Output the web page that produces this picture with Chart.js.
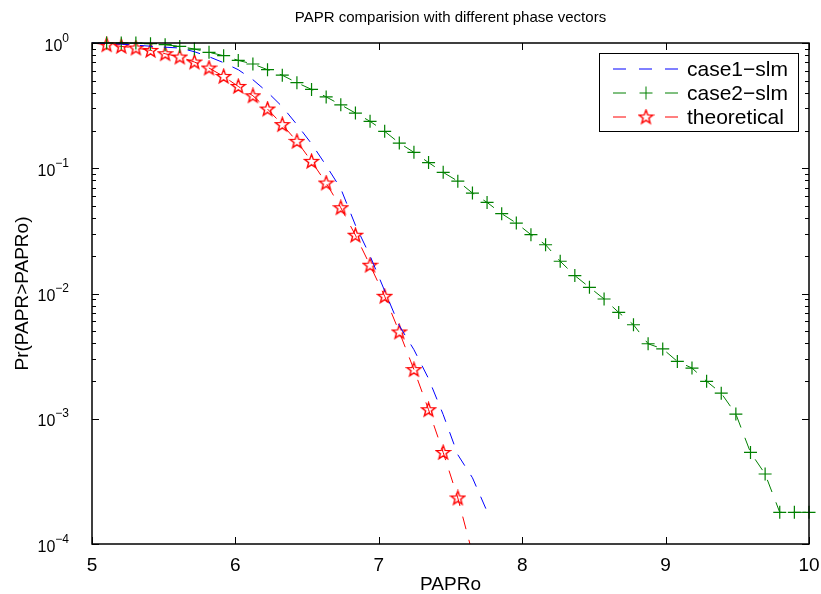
<!DOCTYPE html>
<html>
<head>
<meta charset="utf-8">
<script src="https://cdn.jsdelivr.net/npm/chart.js@4.4.1/dist/chart.umd.min.js"></script>
<style>
  html, body { margin: 0; padding: 0; background: #fff; }
  #wrap { width: 821px; height: 594px; }
</style>
</head>
<body>
<div id="wrap"><canvas id="chart" width="821" height="594"></canvas></div>
<script>
// ---- data ----
const papro = [
  5.000, 5.102, 5.204, 5.306, 5.408, 5.510, 5.612, 5.714, 5.816, 5.918,
  6.020, 6.122, 6.224, 6.327, 6.429, 6.531, 6.633, 6.735, 6.837, 6.939,
  7.041, 7.143, 7.245, 7.347, 7.449, 7.551, 7.653, 7.755, 7.857, 7.959,
  8.061, 8.163, 8.265, 8.367, 8.469, 8.571, 8.673, 8.776, 8.878, 8.980,
  9.082, 9.184, 9.286, 9.388, 9.490, 9.592, 9.694, 9.796, 9.898, 10.000
];

const case1Slm = [
  1.0, 0.99, 0.98, 0.96, 0.943, 0.926, 0.912, 0.852, 0.777, 0.696,
  0.612, 0.509, 0.405, 0.310, 0.223, 0.157, 0.105, 0.0687, 0.0351, 0.020,
  0.0105, 0.00553, 0.00356, 0.00209, 0.00108, 0.000516, 0.000338, 0.000182
];

const case2Slm = [
  1.0, 1.0, 1.0, 0.999, 0.987, 0.969, 0.939, 0.895, 0.842, 0.792,
  0.726, 0.680, 0.612, 0.553, 0.482, 0.426, 0.371, 0.321, 0.276, 0.237,
  0.197, 0.159, 0.134, 0.111, 0.0927, 0.0789, 0.0634, 0.0534, 0.0434, 0.0365,
  0.0295, 0.0245, 0.0181, 0.0139, 0.0112, 0.00904, 0.00706, 0.00563, 0.00397, 0.00361,
  0.00287, 0.00254, 0.00199, 0.0016, 0.00109, 0.000538, 0.000362, 0.000179, 0.000179, 0.000179
];

const theoretical = [
  1.0, 0.969, 0.94, 0.912, 0.873, 0.821, 0.773, 0.705, 0.631, 0.541,
  0.450, 0.379, 0.297, 0.223, 0.164, 0.1135, 0.0762, 0.0484, 0.0292, 0.01682,
  0.0095, 0.00493, 0.00247, 0.00118, 0.000538, 0.000233, 0.000084
];

const xTicks = [5, 6, 7, 8, 9, 10];
const yTickExponents = [0, -1, -2, -3, -4];
const seriesLabels = ['case1\u2212slm', 'case2\u2212slm', 'theoretical'];
const chartTitle = 'PAPR comparision with different phase vectors';
const xTitle = 'PAPRo';
const yTitle = 'Pr(PAPR>PAPRo)';

const FONT = '"Liberation Sans", Arial, Helvetica, sans-serif';
const BLUE = '#0000ff', GREEN = '#008000', RED = '#ff0000';

function toPoints(values) {
  return values.map((v, i) => ({ x: papro[i], y: v }));
}

// pentagram marker, like matlab 'p'
function makeStar(color) {
  const c = document.createElement('canvas');
  c.width = 17; c.height = 17;
  const g = c.getContext('2d');
  const cx = 8.5, cy = 8.8, R = 7.2, r = 3.0;
  g.beginPath();
  for (let k = 0; k < 10; k++) {
    const rad = k % 2 === 0 ? R : r;
    const a = -Math.PI / 2 + k * Math.PI / 5;
    const px = cx + rad * Math.cos(a), py = cy + rad * Math.sin(a);
    if (k === 0) g.moveTo(px, py); else g.lineTo(px, py);
  }
  g.closePath();
  g.strokeStyle = color;
  g.lineWidth = 1.4;
  g.stroke();
  return c;
}
const starImg = makeStar(RED);

// box, inward ticks, y labels with exponents, title and legend
const matlabAxes = {
  id: 'matlabAxes',
  afterDatasetsDraw(chart) {
    const ctx = chart.ctx;
    const { left, right, top, bottom } = chart.chartArea;
    const xs = chart.scales.x, ys = chart.scales.y;
    ctx.save();
    ctx.strokeStyle = '#000';
    ctx.lineWidth = 1.5;
    ctx.strokeRect(left, top, right - left, bottom - top);

    ctx.lineWidth = 1;
    ctx.beginPath();
    xTicks.forEach(v => {
      const px = Math.round(xs.getPixelForValue(v)) + 0.5;
      ctx.moveTo(px, bottom); ctx.lineTo(px, bottom - 7);
      ctx.moveTo(px, top); ctx.lineTo(px, top + 7);
    });
    yTickExponents.forEach(e => {
      for (let m = 1; m < 10; m++) {
        if ((e === -4 || e === 0) && m > 1) continue;
        const val = m * Math.pow(10, e);
        const py = Math.round(ys.getPixelForValue(val)) + 0.5;
        const len = m === 1 ? 7 : 4;
        ctx.moveTo(left, py); ctx.lineTo(left + len, py);
        ctx.moveTo(right, py); ctx.lineTo(right - len, py);
      }
    });
    ctx.stroke();

    // y tick labels 10^e
    ctx.fillStyle = '#000';
    ctx.textBaseline = 'alphabetic';
    yTickExponents.forEach(e => {
      const py = ys.getPixelForValue(Math.pow(10, e));
      const expText = e < 0 ? '\u2212' + (-e) : String(e);
      ctx.font = '12px ' + FONT;
      const expW = ctx.measureText(expText).width;
      const xr = 69;
      ctx.textAlign = 'left';
      ctx.fillText(expText, xr - expW, py - 1.5);
      ctx.font = '16px ' + FONT;
      ctx.textAlign = 'right';
      ctx.fillText('10', xr - expW, py + 7.5);
    });

    // title
    ctx.font = '15px ' + FONT;
    ctx.textAlign = 'center';
    ctx.textBaseline = 'middle';
    ctx.fillText(chartTitle, (left + right) / 2, 18);

    // legend
    const lx = 599.5, ly = 53.5, lw = 199, lh = 78;
    ctx.fillStyle = '#fff';
    ctx.fillRect(lx, ly, lw, lh);
    ctx.strokeStyle = '#000';
    ctx.lineWidth = 1;
    ctx.strokeRect(lx, ly, lw, lh);
    const rows = [69, 93, 117];
    const colors = [BLUE, GREEN, RED];
    chart.data.datasets.forEach((ds, i) => {
      const y = rows[i];
      ctx.strokeStyle = colors[i];
      ctx.lineWidth = 1;
      ctx.beginPath();
      ctx.moveTo(613, y); ctx.lineTo(626, y);
      ctx.moveTo(665, y); ctx.lineTo(678, y);
      if (i === 0) { ctx.moveTo(639, y); ctx.lineTo(652, y); }
      ctx.stroke();
      if (i === 1) {
        ctx.beginPath();
        ctx.moveTo(639.5, y); ctx.lineTo(652.5, y);
        ctx.moveTo(646, y - 6.5); ctx.lineTo(646, y + 6.5);
        ctx.stroke();
      } else if (i === 2) {
        ctx.drawImage(starImg, 646 - starImg.width / 2, y - starImg.height / 2);
      }
      ctx.fillStyle = '#000';
      ctx.font = '21px ' + FONT;
      ctx.textAlign = 'left';
      ctx.textBaseline = 'middle';
      ctx.fillText(ds.label, 687, y + 1);
    });
    ctx.restore();
  }
};

const hideFirst = (r) => (ctx) => (ctx.dataIndex === 0 ? 0 : r);

new Chart(document.getElementById('chart'), {
  type: 'line',
  data: {
    datasets: [
      {
        label: seriesLabels[0],
        data: toPoints(case1Slm),
        borderColor: BLUE,
        borderWidth: 1,
        borderDash: [13, 11],
        pointRadius: 0,
        tension: 0,
        clip: false
      },
      {
        label: seriesLabels[1],
        data: toPoints(case2Slm),
        borderColor: GREEN,
        borderWidth: 1,
        borderDash: [13, 11],
        pointStyle: 'cross',
        pointRadius: hideFirst(6.5),
        pointBorderColor: GREEN,
        pointBorderWidth: 1.2,
        tension: 0,
        clip: false
      },
      {
        label: seriesLabels[2],
        data: toPoints(theoretical),
        borderColor: RED,
        borderWidth: 1,
        borderDash: [13, 11],
        pointStyle: starImg,
        pointRadius: hideFirst(7),
        tension: 0,
        clip: { left: 10, top: 10, right: 10, bottom: 0 }
      }
    ]
  },
  options: {
    responsive: false,
    animation: false,
    events: [],
    layout: { padding: { top: 43, right: 12, bottom: 0, left: 0 } },
    plugins: {
      legend: { display: false },
      title: { display: false },
      tooltip: { enabled: false }
    },
    scales: {
      x: {
        type: 'linear',
        min: 5,
        max: 10,
        afterBuildTicks: (s) => { s.ticks = xTicks.map(v => ({ value: v })); },
        afterFit: (s) => { s.height = 50; s.paddingRight = 12; s.paddingLeft = 0; },
        ticks: {
          font: { family: FONT, size: 19 },
          color: '#000',
          padding: 10,
          maxRotation: 0,
          autoSkip: false
        },
        grid: { display: false, drawTicks: false },
        border: { display: false },
        title: {
          display: true,
          text: xTitle,
          color: '#000',
          font: { family: FONT, size: 19, lineHeight: 1 },
          padding: 0
        }
      },
      y: {
        type: 'logarithmic',
        min: 1e-4,
        max: 1,
        afterFit: (s) => { s.width = 92; },
        ticks: { display: false },
        grid: { display: false, drawTicks: false },
        border: { display: false },
        title: {
          display: true,
          text: yTitle,
          color: '#000',
          font: { family: FONT, size: 19, lineHeight: 1 },
          padding: { top: 13, bottom: 0 }
        }
      }
    }
  },
  plugins: [matlabAxes]
});
</script>
</body>
</html>
